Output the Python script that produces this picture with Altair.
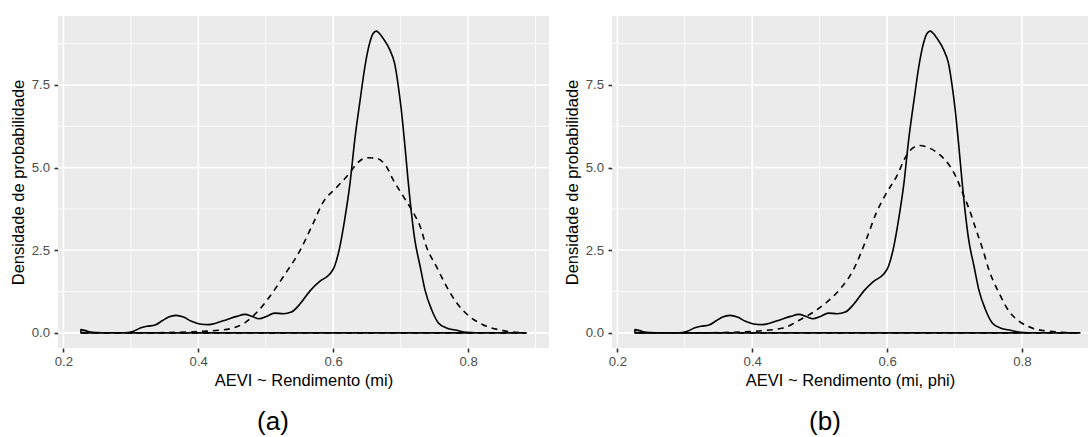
import altair as alt
import pandas as pd

# ---------------- data ----------------
solid_x = [0.226, 0.233, 0.240, 0.250, 0.265, 0.285, 0.296, 0.304, 0.314, 0.324,
           0.336, 0.346, 0.356, 0.367, 0.378, 0.390, 0.402, 0.415, 0.427, 0.442,
           0.457, 0.469, 0.480, 0.490, 0.501, 0.513, 0.526, 0.538, 0.551, 0.566,
           0.580, 0.595, 0.602, 0.610, 0.617, 0.625, 0.632, 0.640, 0.647, 0.654,
           0.659, 0.664, 0.669, 0.674, 0.684, 0.691, 0.696, 0.701, 0.706, 0.711,
           0.716, 0.721, 0.729, 0.736, 0.746, 0.756, 0.768, 0.783, 0.798, 0.822,
           0.886]
solid_y = [0.10, 0.07, 0.03, 0.01, 0.00, 0.00, 0.01, 0.05, 0.15, 0.20,
           0.24, 0.36, 0.48, 0.53, 0.48, 0.35, 0.27, 0.25, 0.30, 0.40,
           0.50, 0.56, 0.50, 0.43, 0.50, 0.60, 0.58, 0.63, 0.88, 1.28,
           1.56, 1.78, 2.01, 2.62, 3.42, 4.53, 5.84, 7.05, 8.05, 8.76,
           9.05, 9.13, 9.05, 8.91, 8.56, 8.16, 7.55, 6.75, 5.74, 4.63,
           3.63, 2.82, 2.01, 1.31, 0.70, 0.30, 0.15, 0.08, 0.02, 0.00,
           0.00]

dash_a_x = [0.226, 0.280, 0.350, 0.400, 0.430, 0.452, 0.470, 0.488, 0.506, 0.526,
            0.551, 0.570, 0.585, 0.605, 0.625, 0.635, 0.650, 0.664, 0.679, 0.689,
            0.704, 0.719, 0.729, 0.738, 0.753, 0.768, 0.783, 0.802, 0.822, 0.852,
            0.886]
dash_a_y = [0.01, 0.00, 0.01, 0.04, 0.08, 0.15, 0.32, 0.65, 1.10, 1.70,
            2.50, 3.30, 3.95, 4.40, 4.85, 5.12, 5.30, 5.28, 5.03, 4.63,
            4.13, 3.63, 3.22, 2.62, 2.01, 1.41, 0.91, 0.50, 0.25, 0.07,
            0.00]

dash_b_x = [0.226, 0.300, 0.370, 0.410, 0.446, 0.471, 0.490, 0.510, 0.530, 0.550,
            0.569, 0.584, 0.599, 0.614, 0.628, 0.638, 0.648, 0.663, 0.678, 0.692,
            0.702, 0.712, 0.722, 0.732, 0.742, 0.751, 0.766, 0.781, 0.796, 0.815,
            0.840, 0.884]
dash_b_y = [0.01, 0.00, 0.02, 0.06, 0.15, 0.40, 0.62, 0.92, 1.32, 1.91,
            2.82, 3.63, 4.23, 4.73, 5.34, 5.59, 5.67, 5.59, 5.39, 5.08,
            4.73, 4.23, 3.73, 3.12, 2.52, 1.91, 1.21, 0.65, 0.35, 0.15,
            0.05, 0.00]

x_major = [0.2, 0.4, 0.6, 0.8]
x_minor = [0.3, 0.5, 0.7, 0.9]
y_major = [0.0, 2.5, 5.0, 7.5]
y_minor = [1.25, 3.75, 6.25, 8.75]

y_title = "Densidade de probabilidade"
x_title_a = "AEVI ~ Rendimento (mi)"
x_title_b = "AEVI ~ Rendimento (mi, phi)"
panel_labels = ["(a)", "(b)"]

FONT = "Liberation Sans"
y_dom = [-0.456, 9.586]


def panel(dash_x, dash_y, xtitle, label, xdom, width, dx):
    xscale = alt.Scale(domain=xdom, nice=False, zero=False)
    yscale = alt.Scale(domain=y_dom, nice=False, zero=False)
    xaxis = alt.Axis(values=x_major, format=".1f", title=xtitle)
    yaxis = alt.Axis(values=y_major, format=".1f", title=y_title)

    def X():
        return alt.X("x:Q", scale=xscale, axis=xaxis)

    def Y():
        return alt.Y("y:Q", scale=yscale, axis=yaxis)

    gx_min = alt.Chart(pd.DataFrame({"x": x_minor})).mark_rule(
        color="white", strokeWidth=0.8, clip=True).encode(x=X())
    gx_maj = alt.Chart(pd.DataFrame({"x": x_major})).mark_rule(
        color="white", strokeWidth=1.6, clip=True).encode(x=X())
    gy_min = alt.Chart(pd.DataFrame({"y": y_minor})).mark_rule(
        color="white", strokeWidth=0.8, clip=True).encode(y=Y())
    gy_maj = alt.Chart(pd.DataFrame({"y": y_major})).mark_rule(
        color="white", strokeWidth=1.6, clip=True).encode(y=Y())

    solid = alt.Chart(pd.DataFrame({"x": solid_x, "y": solid_y})).mark_area(
        fillOpacity=0, stroke="black", strokeWidth=1.6, strokeJoin="round",
        interpolate="monotone").encode(x=X(), y=Y())
    dashed = alt.Chart(pd.DataFrame({"x": dash_x, "y": dash_y})).mark_area(
        fillOpacity=0, stroke="black", strokeWidth=1.6, strokeDash=[6, 5],
        interpolate="monotone").encode(x=X(), y=Y())

    return alt.layer(gx_min, gx_maj, gy_min, gy_maj, solid, dashed).properties(
        width=width, height=332,
        title=alt.TitleParams(text=label, orient="bottom", fontSize=26,
                              font=FONT, fontWeight="normal", color="black",
                              frame="group", anchor="middle", dx=dx, offset=20),
    )


left = panel(dash_a_x, dash_a_y, x_title_a, panel_labels[0], [0.192, 0.92], 491, -30.5)
right = panel(dash_b_x, dash_b_y, x_title_b, panel_labels[1], [0.192, 0.898], 476, -25)

chart = alt.hconcat(left, right, spacing=63, bounds="flush").properties(
    padding={"left": 10, "top": 16, "right": 0, "bottom": 0}
).configure_view(
    fill="#EBEBEB", strokeWidth=0
).configure_axis(
    grid=False, domain=False,
    tickColor="#333333", tickSize=4, tickWidth=1.6,
    labelColor="#4D4D4D", labelFontSize=13.2, labelFont=FONT, labelPadding=3.6,
    titleColor="black", titleFontSize=16.5, titleFont=FONT, titleFontWeight="normal",
    titlePadding=4.5
).configure_axisY(
    labelPadding=4.5, titlePadding=4.5
)

chart.save("out.html", embed_options={"renderer": "svg", "actions": False})
